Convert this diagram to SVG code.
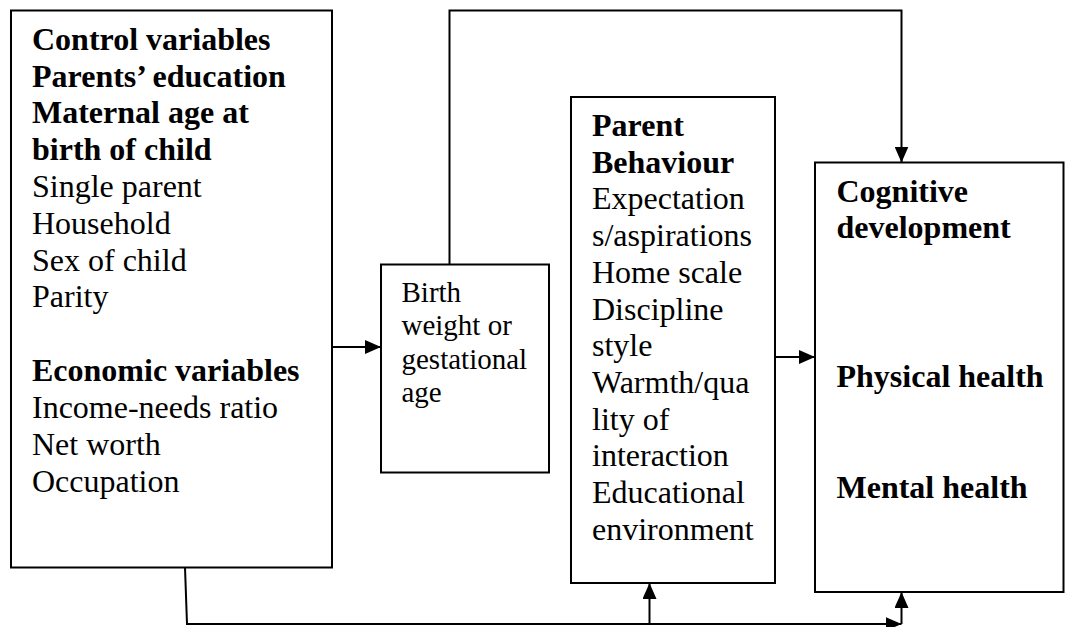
<svg xmlns="http://www.w3.org/2000/svg" width="1065" height="627" viewBox="0 0 1065 627">
<style>
.box{fill:#fff;stroke:#000;stroke-width:2}
.t{font-family:'Liberation Serif','Times New Roman',serif;font-size:32px;fill:#000}
.s{font-size:29px}
.b{font-weight:bold}
.c{fill:none;stroke:#000;stroke-width:2}
</style>
<defs>
<marker id="ah" viewBox="0 0 16 14" refX="16" refY="7" markerWidth="16" markerHeight="14" markerUnits="userSpaceOnUse" orient="auto">
<path d="M0,0 L16,7 L0,14 Z" fill="#000"/>
</marker>
</defs>
<rect width="1065" height="627" fill="#fff"/>
<g id="control">
<rect class="box" x="11" y="10.5" width="321" height="557"/>
<text class="t" x="32">
<tspan class="b" x="32" y="50">Control variables</tspan>
<tspan class="b" x="32" y="86.7">Parents’ education</tspan>
<tspan class="b" x="32" y="123.4">Maternal age at</tspan>
<tspan class="b" x="32" y="160.1">birth of child</tspan>
<tspan x="32" y="196.8">Single parent</tspan>
<tspan x="32" y="233.5">Household</tspan>
<tspan x="32" y="270.5">Sex of child</tspan>
<tspan x="32" y="307.3">Parity</tspan>
<tspan class="b" x="32" y="381.3">Economic variables</tspan>
<tspan x="32" y="418">Income-needs ratio</tspan>
<tspan x="32" y="454.8">Net worth</tspan>
<tspan x="32" y="491.8">Occupation</tspan>
</text>
</g>
<g id="birth">
<rect class="box" x="381" y="264.5" width="168" height="208"/>
<text class="t s" x="401.5">
<tspan x="401.5" y="301.5">Birth</tspan>
<tspan x="401.5" y="335">weight or</tspan>
<tspan x="401.5" y="368.5">gestational</tspan>
<tspan x="401.5" y="402">age</tspan>
</text>
</g>
<g id="parent">
<rect class="box" x="571" y="97" width="204" height="486"/>
<text class="t" x="592">
<tspan class="b" x="592" y="136">Parent</tspan>
<tspan class="b" x="592" y="172.7">Behaviour</tspan>
<tspan x="592" y="209.4">Expectation</tspan>
<tspan x="592" y="246.1">s/aspirations</tspan>
<tspan x="592" y="282.8">Home scale</tspan>
<tspan x="592" y="319.5">Discipline</tspan>
<tspan x="592" y="356.2">style</tspan>
<tspan x="592" y="392.9">Warmth/qua</tspan>
<tspan x="592" y="429.6">lity of</tspan>
<tspan x="592" y="466.3">interaction</tspan>
<tspan x="592" y="503">Educational</tspan>
<tspan x="592" y="539.7">environment</tspan>
</text>
</g>
<g id="outcomes">
<rect class="box" x="815" y="162.5" width="248.5" height="429.5"/>
<text class="t b" x="836.5">
<tspan x="836.5" y="201.7">Cognitive</tspan>
<tspan x="836.5" y="238">development</tspan>
<tspan x="836.5" y="386.7">Physical health</tspan>
<tspan x="836.5" y="498.3">Mental health</tspan>
</text>
</g>
<g id="connectors">
<path class="c" d="M332,347 L381,347" marker-end="url(#ah)"/>
<path class="c" d="M449.5,264.5 L449.5,10.5 L901.5,10.5 L901.5,162.5" marker-end="url(#ah)"/>
<path class="c" d="M775,357 L815,357" marker-end="url(#ah)"/>
<path class="c" d="M185,567.5 L187,624 L901.5,624" marker-end="url(#ah)"/>
<path class="c" d="M649.5,624 L649.5,583" marker-end="url(#ah)"/>
<path class="c" d="M901.5,624 L901.5,592" marker-end="url(#ah)"/>
</g>
</svg>
